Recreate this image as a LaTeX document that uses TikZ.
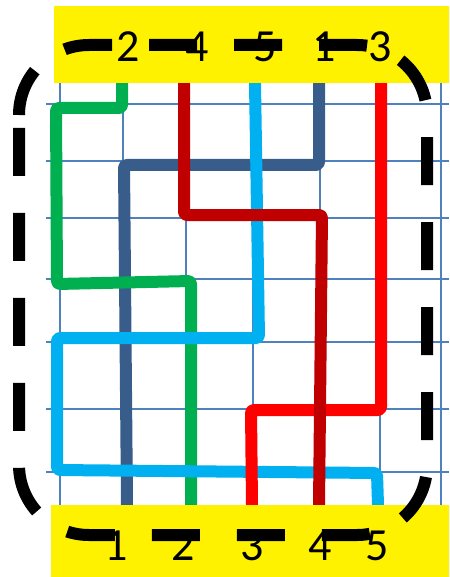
\documentclass[tikz,border=0pt]{standalone}
\usepackage{fontspec}
\setmainfont{Carlito}
\usepackage{tikz}
\usetikzlibrary{positioning}
\definecolor{wiregreen}{RGB}{0,176,80}
\definecolor{wirenavy}{RGB}{56,93,138}
\definecolor{wiremaroon}{RGB}{192,0,0}
\definecolor{wiresky}{RGB}{0,176,240}
\definecolor{wirered}{RGB}{255,0,0}
\definecolor{gridblue}{RGB}{79,129,189}
\tikzset{
  gridline/.style={draw=gridblue, line width=1.2pt},
  wire/.style={line width=12pt, line join=round, rounded corners=3pt},
  band/.style={
    rectangle, fill=yellow, draw=none, inner sep=0pt, outer sep=0pt,
    anchor=north west
  },
  digit/.style={font=\fontsize{46}{46}\selectfont, inner sep=0pt, anchor=base},
  dashframe/.style={
    line width=12pt, dash pattern=on 48pt off 37pt,
    rounded corners=70pt
  }
}

\begin{document}
\begin{tikzpicture}[x=1pt, y=-1pt]
  \useasboundingbox (0,0) rectangle (449,577);

  % grid
  \foreach \x in {60,123,186,253,320,380,441}
    \draw[gridline] (\x,83) -- (\x,505);
  \foreach \y in {104,161,218,279,342,409,472}
    \draw[gridline] (46,\y) -- (449,\y);

  % wire ends
  \foreach \n/\x in {1/319,2/122,3/381,4/184,5/255}
    \coordinate (in\n) at (\x,83);
  \foreach \n/\x in {1/127,2/191,3/252,4/319,5/378}
    \coordinate (out\n) at (\x,505);

  \draw[wire, wirenavy] (in1) -- (319,165) -- (124,165) -- (out1);
  \draw[wire, wiregreen] (in2) -- (122,108) -- (56,108) -- (57,284)
    -- (191,281) -- (out2);
  \draw[wire, wiresky] (in5) -- (259,338) -- (57,338) -- (57,470)
    -- (377,473) -- (out5);
  \draw[wire, wirered] (in3) -- (381,410) -- (251,410) -- (out3);
  \draw[wire, wiremaroon] (in4) -- (184,215) -- (322,215) -- (out4);

  % bands
  \node[band, minimum width=395pt, minimum height=77pt] (top) at (54,6) {};
  \node[band, minimum width=398pt, minimum height=72pt] (bottom) at (51,505) {};

  \foreach \d/\x in {2/128,4/197,5/265,1/324,3/380}
    \node[digit] (top\d) at (\x,62) {\d};
  \foreach \d/\x in {1/116,2/183,3/252,4/320,5/377}
    \node[digit] (bot\d) at (\x,560) {\d};

  % dashed loop
  \draw[dashframe] (19,115) -- (19,45) -- (427,45) -- (427,535)
    -- (19,535) -- (19,115);
\end{tikzpicture}
\end{document}
